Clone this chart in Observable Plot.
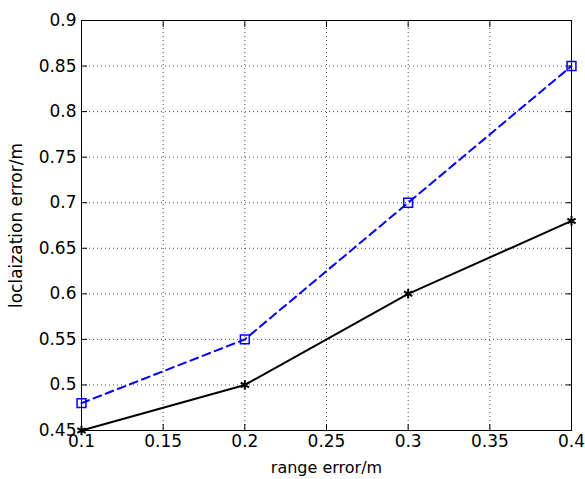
<!DOCTYPE html>
<html><head><meta charset="utf-8">
<script src="https://cdn.jsdelivr.net/npm/d3@7"></script>
<script src="https://cdn.jsdelivr.net/npm/@observablehq/plot@0.6"></script>
<style>body{margin:0;background:#fff;}</style>
</head><body><div id="chart"></div>
<script>
const rangeError = [0.1, 0.2, 0.3, 0.4];
const seriesBlue = [0.48, 0.55, 0.70, 0.85];
const seriesBlack = [0.45, 0.50, 0.60, 0.68];
const xTicks = [0.1, 0.15, 0.2, 0.25, 0.3, 0.35, 0.4];
const yTicks = [0.45, 0.5, 0.55, 0.6, 0.65, 0.7, 0.75, 0.8, 0.85, 0.9];

const blue = rangeError.map((x, i) => ({x, y: seriesBlue[i]}));
const black = rangeError.map((x, i) => ({x, y: seriesBlack[i]}));
const fmt = d => String(+d.toFixed(2));

const chart = Plot.plot({
  width: 585, height: 479,
  marginLeft: 81, marginRight: 14, marginTop: 20, marginBottom: 49,
  style: {fontFamily: "DejaVu Sans, sans-serif", background: "#fff", color: "#000"},
  x: {domain: [0.1, 0.4]},
  y: {domain: [0.45, 0.9]},
  marks: [
    Plot.gridX(xTicks, {stroke: "#000", strokeOpacity: 0.7, strokeDasharray: "1,3"}),
    Plot.gridY(yTicks, {stroke: "#000", strokeOpacity: 0.7, strokeDasharray: "1,3"}),
    Plot.axisX(xTicks, {tickSize: -6, text: null, label: null}),
    Plot.axisX(xTicks, {anchor: "top", tickSize: -6, text: null, label: null}),
    Plot.axisY(yTicks, {tickSize: -6, text: null, label: null}),
    Plot.axisY(yTicks, {anchor: "right", tickSize: -6, text: null, label: null}),
    Plot.axisX(xTicks, {tickSize: 0, tickPadding: 4, fontSize: 17, tickFormat: fmt,
      label: "range error/m", labelAnchor: "center", labelArrow: "none", labelOffset: 42}),
    Plot.axisY(yTicks, {tickSize: 0, tickPadding: 5, fontSize: 17, tickFormat: fmt,
      label: "loclaization error/m", labelAnchor: "center", labelArrow: "none", labelOffset: 72}),
    Plot.frame({stroke: "#000", strokeWidth: 1}),
    Plot.line(blue, {x: "x", y: "y", stroke: "#0000ff", strokeWidth: 2, strokeDasharray: "8,5"}),
    Plot.dot(blue, {x: "x", y: "y", symbol: "square", r: 5, stroke: "#0000ff", strokeWidth: 1.5, fill: "none"}),
    Plot.line(black, {x: "x", y: "y", stroke: "#000", strokeWidth: 2}),
    Plot.dot(black, {x: "x", y: "y", symbol: "asterisk", r: 4.5, stroke: "#000", strokeWidth: 2})
  ]
});
const labels = chart.querySelectorAll("[aria-label$='axis label']");
labels.forEach(g => g.setAttribute("font-size", "16"));
const yl = chart.querySelector("[aria-label='y-axis label']");
if (yl) yl.setAttribute("font-size", "17");
document.getElementById("chart").append(chart);
</script></body></html>
